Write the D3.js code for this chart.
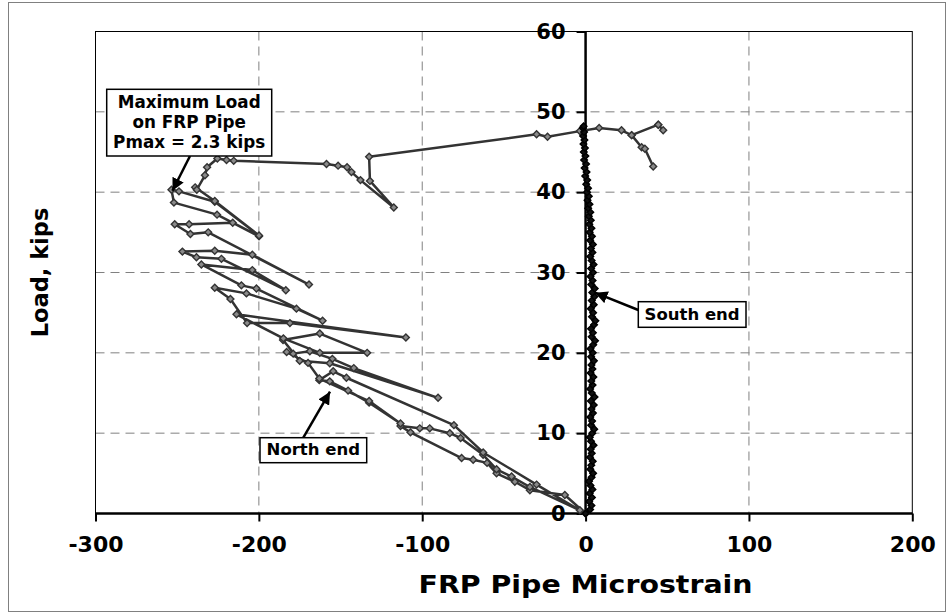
<!DOCTYPE html>
<html>
<head>
<meta charset="utf-8">
<script src="https://cdn.jsdelivr.net/npm/d3@7"></script>
<style>
  body { margin: 0; background: #fff; }
  text { font-family: "DejaVu Sans", Verdana, sans-serif; font-weight: bold; fill: #000; }
  .grid-line { stroke: #808080; stroke-width: 1; stroke-dasharray: 9 6; }
</style>
</head>
<body>
<div id="wrapper"></div>
<script>
// north end gage: [microstrain, load kips], in recorded order
const northEnd = [
  [0, 0], [-12.7, 2.3], [-34.1, 2.9], [-43.3, 3.95], [-54.5, 5.0], [-60.3, 6.3], [-68.8, 6.7],
  [-75.9, 6.9], [-107.2, 10.1], [-113.3, 10.9], [-101.5, 10.6], [-95.4, 10.6], [-83.1, 10.0],
  [-76.5, 9.4], [-62.7, 7.3], [-54.5, 5.5], [-45.3, 4.6], [-34.1, 3.3], [-3.5, 0.4], [-30, 3.6],
  [-62.7, 7.6], [-80.6, 11.0], [-146.4, 16.9], [-154.5, 17.7], [-163, 16.6], [-156.6, 16.45],
  [-145.4, 15.3], [-132.5, 13.8], [-113.3, 11.2], [-132.5, 14.0], [-163, 16.8], [-169.9, 18.75],
  [-183, 20.1], [-179, 19.9], [-168.8, 20.2], [-155, 19.25], [-141.9, 18.1], [-90.3, 14.4],
  [-156.6, 18.7], [-175, 19.0], [-185.2, 21.6], [-162.7, 22.4], [-133.7, 20.0], [-162.7, 20.0],
  [-185, 21.8], [-213.7, 24.8], [-110, 21.9], [-181, 23.7], [-207.2, 23.7], [-217.4, 26.7],
  [-227, 28.1], [-207.6, 27.4], [-177, 25.5], [-161, 24.0], [-201.5, 28.0], [-210.7, 28.4],
  [-235.2, 31.0], [-204, 30.3], [-183.5, 27.8], [-222.9, 31.7], [-238.2, 31.9], [-246.8, 32.6],
  [-227, 32.7], [-204, 32.2], [-169.3, 28.5], [-231, 35.0], [-241.9, 34.8], [-251.5, 36.0],
  [-242.7, 36.0], [-216, 36.2], [-199.9, 34.5], [-225.6, 37.2], [-252, 38.7], [-253.5, 40.3],
  [-248.9, 40.1], [-227, 38.8], [-199.9, 34.6], [-227, 38.9], [-239, 40.6], [-238, 40.3],
  [-233, 42.1], [-231.7, 43.1], [-225.4, 44.2], [-219.8, 44.0], [-215.4, 43.9], [-158.6, 43.5],
  [-151.5, 43.3], [-146, 43.1], [-143.3, 42.5], [-137.8, 41.5], [-117.4, 38.1], [-132, 41.4],
  [-132.5, 44.4], [-30, 47.2], [-23.3, 46.9], [-3.5, 47.6], [8.3, 48.0], [22, 47.7], [28.2, 47.1],
  [44.5, 48.4], [47.5, 47.7], [44.5, 48.4], [28.2, 47.1], [34.3, 45.6], [36.3, 45.4], [41.4, 43.2],
];

// south end gage: stays near zero strain all the way up
const southEnd = [
  [0, 0], [2.8, 0.5], [3.6, 1.0], [2.2, 1.5], [3.9, 2.0], [2.5, 2.5], [4.2, 3.0], [3.0, 3.5],
  [2.1, 4.0], [3.7, 4.5], [4.6, 5.0], [2.9, 5.5], [3.5, 6.0], [4.4, 6.5], [2.7, 7.0], [3.8, 7.5],
  [3.1, 8.0], [4.9, 8.5], [3.3, 9.0], [2.6, 9.5], [4.1, 10.0], [5.3, 10.5], [3.4, 11.0],
  [4.0, 11.5], [2.9, 12.0], [4.5, 12.5], [3.6, 13.0], [5.0, 13.5], [3.2, 14.0], [5.5, 14.5],
  [3.8, 15.0], [2.8, 15.5], [4.3, 16.0], [3.5, 16.5], [4.8, 17.0], [3.1, 17.5], [4.2, 18.0],
  [3.6, 18.5], [5.1, 19.0], [3.4, 19.5], [4.4, 20.0], [3.0, 20.5], [4.7, 21.0], [5.8, 21.5],
  [3.7, 22.0], [4.5, 22.5], [3.3, 23.0], [5.2, 23.5], [6.0, 24.0], [3.9, 24.5], [4.6, 25.0],
  [3.2, 25.5], [5.0, 26.0], [3.8, 26.5], [5.4, 27.0], [4.1, 27.5], [5.6, 28.0], [3.5, 28.5],
  [4.3, 29.0], [3.0, 29.5], [4.6, 30.0], [3.4, 30.5], [4.9, 31.0], [3.7, 31.5], [2.9, 32.0],
  [4.2, 32.5], [3.3, 33.0], [4.5, 33.5], [2.8, 34.0], [3.9, 34.5], [2.5, 35.0], [3.6, 35.5],
  [2.3, 36.0], [3.2, 36.5], [2.0, 37.0], [2.9, 37.5], [1.6, 38.0], [2.4, 38.5], [1.2, 39.0],
  [2.0, 39.5], [0.9, 40.0], [1.5, 40.5], [0.4, 41.0], [1.0, 41.5], [-0.2, 42.0], [0.6, 42.5],
  [-0.6, 43.0], [0.3, 43.5], [-0.9, 44.0], [-0.1, 44.5], [-1.1, 45.0], [-0.4, 45.5], [-1.3, 46.0],
  [-0.7, 46.5], [-1.5, 47.0], [-0.9, 47.5], [-1.7, 48.0], [-1.2, 48.2],
];

const xTicks = [-300, -200, -100, 0, 100, 200];
const yTicks = [0, 10, 20, 30, 40, 50, 60];

const maxLoadNote = ["Maximum Load", "on FRP Pipe", "Pmax = 2.3 kips"];
const southNote = "South end";
const northNote = "North end";

function drawChart() {

  // 1. dimensions
  const dimensions = {
    width: 948,
    height: 615,
    plot: { left: 95.5, right: 912.3, top: 31.5, bottom: 513.5 },
  };
  const p = dimensions.plot;

  const wrapper = d3.select("#wrapper")
    .append("svg")
    .attr("width", dimensions.width)
    .attr("height", dimensions.height);

  const defs = wrapper.append("defs");
  defs.append("marker")
    .attr("id", "arrow")
    .attr("viewBox", "0 0 10 10")
    .attr("refX", 10).attr("refY", 5)
    .attr("markerWidth", 5).attr("markerHeight", 5)
    .attr("markerUnits", "strokeWidth")
    .attr("orient", "auto")
    .append("path")
    .attr("d", "M0,0 L10,5 L0,10 Z")
    .attr("fill", "#000");

  // chart area border
  wrapper.append("rect")
    .attr("x", 8.5).attr("y", 2.5)
    .attr("width", 937).attr("height", 609)
    .attr("fill", "#fff")
    .attr("stroke", "#808080");

  // 2. scales
  const xScale = d3.scaleLinear().domain([-300, 200]).range([p.left, p.right]);
  const yScale = d3.scaleLinear().domain([0, 60]).range([p.bottom, p.top]);

  // 3. grid + frame
  const grid = wrapper.append("g");
  grid.selectAll(".h")
    .data(yTicks.filter(d => d > 0 && d < 60))
    .join("line")
    .attr("class", "grid-line")
    .attr("x1", p.left).attr("x2", p.right)
    .attr("y1", d => yScale(d)).attr("y2", d => yScale(d));
  grid.selectAll(".v")
    .data(xTicks.filter(d => d !== 0 && d > -300 && d < 200))
    .join("line")
    .attr("class", "grid-line")
    .attr("x1", d => xScale(d)).attr("x2", d => xScale(d))
    .attr("y1", p.top).attr("y2", p.bottom);

  wrapper.append("rect")
    .attr("x", p.left).attr("y", p.top)
    .attr("width", p.right - p.left).attr("height", p.bottom - p.top)
    .attr("fill", "none")
    .attr("stroke", "#000")
    .attr("stroke-width", 1);

  // 4. axes (they cross at zero)
  const xAxis = d3.axisBottom(xScale)
    .tickValues(xTicks)
    .tickFormat(d => String(d)) // plain hyphen, not the unicode minus
    .tickSize(8)
    .tickPadding(15);
  const xAxisGroup = wrapper.append("g")
    .attr("transform", `translate(0,${yScale(0)})`)
    .call(xAxis);
  xAxisGroup.select(".domain").remove();
  xAxisGroup.append("line")
    .attr("x1", p.left).attr("x2", p.right)
    .attr("stroke", "#000").attr("stroke-width", 2.5);
  xAxisGroup.selectAll(".tick line").attr("stroke", "#000").attr("stroke-width", 2);
  xAxisGroup.selectAll(".tick text")
    .attr("fill", "#000")
    .style("font-size", "22px")
    .style("font-family", "DejaVu Sans")
    .style("font-weight", "bold");

  const yAxis = d3.axisLeft(yScale).tickValues(yTicks).tickSize(9).tickPadding(11);
  const yAxisGroup = wrapper.append("g")
    .attr("transform", `translate(${xScale(0)},0)`)
    .call(yAxis);
  yAxisGroup.select(".domain").remove();
  yAxisGroup.append("line")
    .attr("y1", p.top).attr("y2", p.bottom)
    .attr("stroke", "#000").attr("stroke-width", 2.5);
  yAxisGroup.selectAll(".tick line").attr("stroke", "#000").attr("stroke-width", 2);
  yAxisGroup.selectAll(".tick text")
    .attr("fill", "#000")
    .style("font-size", "21px")
    .style("font-family", "DejaVu Sans")
    .style("font-weight", "bold");

  // axis titles
  wrapper.append("text")
    .attr("x", xScale(0))
    .attr("y", 593)
    .attr("text-anchor", "middle")
    .attr("textLength", 334)
    .attr("lengthAdjust", "spacingAndGlyphs")
    .style("font-size", "24px")
    .text("FRP Pipe Microstrain");

  wrapper.append("text")
    .attr("transform", `translate(48,${(p.top + p.bottom) / 2}) rotate(-90)`)
    .attr("text-anchor", "middle")
    .style("font-size", "22.5px")
    .text("Load, kips");

  // 5. data
  const lineGenerator = d3.line()
    .x(d => xScale(d[0]))
    .y(d => yScale(d[1]));

  const drawSeries = (data, color, fill, width, markerSize) => {
    const diamond = d3.symbol().type(d3.symbolSquare).size(markerSize);
    const g = wrapper.append("g");
    g.append("path")
      .attr("d", lineGenerator(data))
      .attr("fill", "none")
      .attr("stroke", color)
      .attr("stroke-width", width)
      .attr("stroke-linejoin", "round");
    g.selectAll("path.pt")
      .data(data)
      .join("path")
      .attr("class", "pt")
      .attr("d", diamond)
      .attr("transform", d => `translate(${xScale(d[0])},${yScale(d[1])}) rotate(45)`)
      .attr("fill", fill)
      .attr("stroke", color)
      .attr("stroke-width", 1.4);
  };

  drawSeries(northEnd, "#333", "#8a8a8a", 2.5, 24);
  drawSeries(southEnd, "#000", "#111", 3, 22);

  // 6. annotations
  const notes = wrapper.append("g");

  const arrow = (x1, y1, x2, y2) => notes.append("line")
    .attr("x1", x1).attr("y1", y1).attr("x2", x2).attr("y2", y2)
    .attr("stroke", "#000")
    .attr("stroke-width", 2.5)
    .attr("marker-end", "url(#arrow)");

  // max load callout
  arrow(190, 156, xScale(-253.5) + 1, yScale(40.3) + 1);
  notes.append("rect")
    .attr("x", 106.7).attr("y", 89.3).attr("width", 165).attr("height", 66.7)
    .attr("fill", "#fff").attr("stroke", "#000").attr("stroke-width", 1.5);
  notes.selectAll("text.max")
    .data(maxLoadNote)
    .join("text")
    .attr("class", "max")
    .attr("x", 189.2)
    .attr("y", (d, i) => [107.5, 127.6, 148.2][i])
    .attr("text-anchor", "middle")
    .style("font-size", "16.8px")
    .text(d => d);

  // south end
  arrow(638.3, 310, 595, 292.7);
  notes.append("rect")
    .attr("x", 638.3).attr("y", 301.7).attr("width", 107.7).attr("height", 25.6)
    .attr("fill", "#fff").attr("stroke", "#000").attr("stroke-width", 1.5);
  notes.append("text")
    .attr("x", 692.1).attr("y", 319.8)
    .attr("text-anchor", "middle")
    .style("font-size", "16.5px")
    .text(southNote);

  // north end
  arrow(303.3, 437.7, 330, 391.7);
  notes.append("rect")
    .attr("x", 260).attr("y", 437.7).attr("width", 106.7).attr("height", 25)
    .attr("fill", "#fff").attr("stroke", "#000").attr("stroke-width", 1.5);
  notes.append("text")
    .attr("x", 313.3).attr("y", 454.5)
    .attr("text-anchor", "middle")
    .style("font-size", "16.5px")
    .text(northNote);
}

drawChart();
</script>
</body>
</html>
